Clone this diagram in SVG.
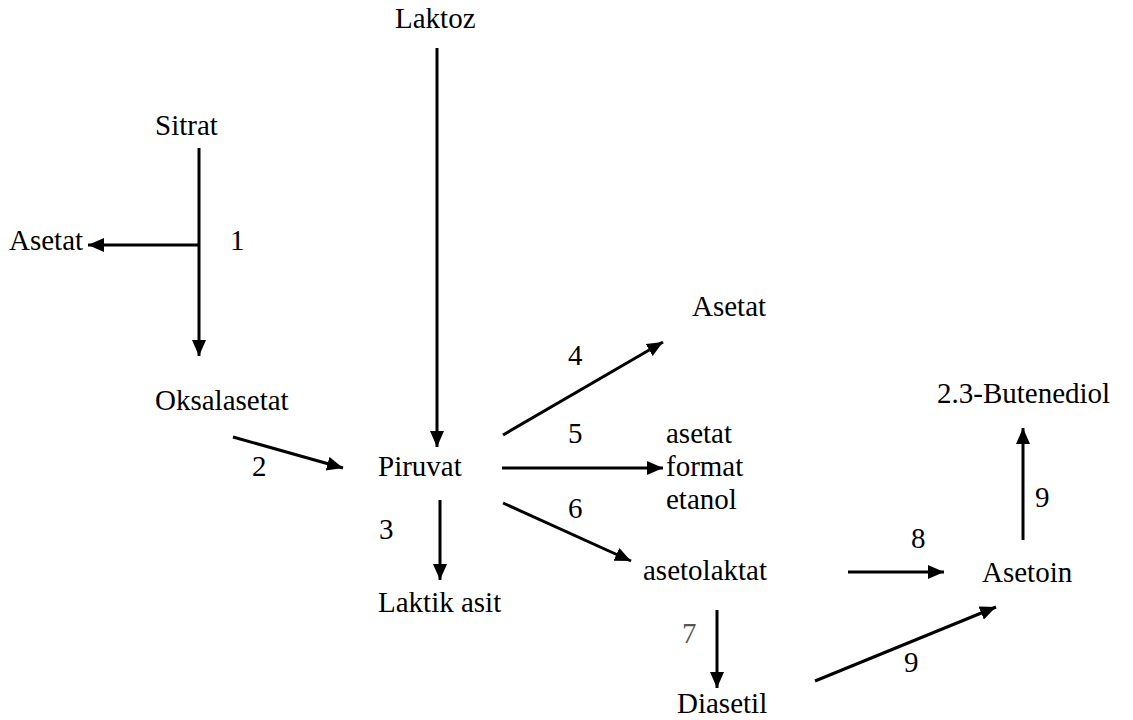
<svg xmlns="http://www.w3.org/2000/svg" width="1133" height="720" viewBox="0 0 1133 720">
<defs>
<marker id="ah" markerUnits="userSpaceOnUse" markerWidth="18" markerHeight="16" refX="16" refY="7" orient="auto"><path d="M0,0 L16,7 L0,14 z" fill="#000"/></marker>
</defs>
<rect width="1133" height="720" fill="#fff"/>
<g id="laktoz"><text x="395" y="28" font-family="Times New Roman, Liberation Serif, serif" font-size="29">Laktoz</text></g>
<g id="sitrat"><text x="155" y="135" font-family="Times New Roman, Liberation Serif, serif" font-size="29">Sitrat</text></g>
<g id="asetat1"><text x="9" y="250" font-family="Times New Roman, Liberation Serif, serif" font-size="29">Asetat</text></g>
<g id="oksalasetat"><text x="155" y="410" font-family="Times New Roman, Liberation Serif, serif" font-size="29">Oksalasetat</text></g>
<g id="piruvat"><text x="378" y="476" font-family="Times New Roman, Liberation Serif, serif" font-size="29">Piruvat</text></g>
<g id="laktik"><text x="378" y="612" font-family="Times New Roman, Liberation Serif, serif" font-size="29">Laktik asit</text></g>
<g id="asetat2"><text x="692" y="316" font-family="Times New Roman, Liberation Serif, serif" font-size="29">Asetat</text></g>
<g id="afe"><text x="666" y="443" font-family="Times New Roman, Liberation Serif, serif" font-size="29">asetat</text><text x="666" y="476" font-family="Times New Roman, Liberation Serif, serif" font-size="29">format</text><text x="666" y="509" font-family="Times New Roman, Liberation Serif, serif" font-size="29">etanol</text></g>
<g id="asetolaktat"><text x="643" y="580" font-family="Times New Roman, Liberation Serif, serif" font-size="29">asetolaktat</text></g>
<g id="asetoin"><text x="982" y="582" font-family="Times New Roman, Liberation Serif, serif" font-size="29">Asetoin</text></g>
<g id="butenediol"><text x="937" y="403" font-family="Times New Roman, Liberation Serif, serif" font-size="29">2.3-Butenediol</text></g>
<g id="diasetil"><text x="677" y="713" font-family="Times New Roman, Liberation Serif, serif" font-size="29">Diasetil</text></g>
<g id="connectors" stroke="#000" stroke-width="3" marker-end="url(#ah)">
<line x1="437" y1="48" x2="437" y2="447"/>
<line x1="199" y1="148" x2="199" y2="356"/>
<line x1="199" y1="245" x2="88" y2="245"/>
<line x1="233" y1="437" x2="343" y2="468"/>
<line x1="440" y1="500" x2="440" y2="580"/>
<line x1="503" y1="435" x2="663" y2="342"/>
<line x1="502" y1="468" x2="663" y2="468"/>
<line x1="503" y1="503" x2="631" y2="561"/>
<line x1="848" y1="572" x2="944" y2="572"/>
<line x1="1023" y1="540" x2="1023" y2="428"/>
<line x1="717" y1="610" x2="717" y2="688"/>
<line x1="815" y1="681" x2="996" y2="607"/>
</g>
<g id="labels">
<text x="230" y="250" font-family="Times New Roman, Liberation Serif, serif" font-size="29">1</text>
<text x="252" y="476" font-family="Times New Roman, Liberation Serif, serif" font-size="29">2</text>
<text x="379" y="539" font-family="Times New Roman, Liberation Serif, serif" font-size="29">3</text>
<text x="568" y="365" font-family="Times New Roman, Liberation Serif, serif" font-size="29">4</text>
<text x="568" y="443" font-family="Times New Roman, Liberation Serif, serif" font-size="29">5</text>
<text x="568" y="518" font-family="Times New Roman, Liberation Serif, serif" font-size="29">6</text>
<text x="682" y="643" font-family="Times New Roman, Liberation Serif, serif" font-size="29" fill="#555">7</text>
<text x="911" y="548" font-family="Times New Roman, Liberation Serif, serif" font-size="29">8</text>
<text x="1035" y="507" font-family="Times New Roman, Liberation Serif, serif" font-size="29">9</text>
<text x="904" y="672" font-family="Times New Roman, Liberation Serif, serif" font-size="29">9</text>
</g>
</svg>
